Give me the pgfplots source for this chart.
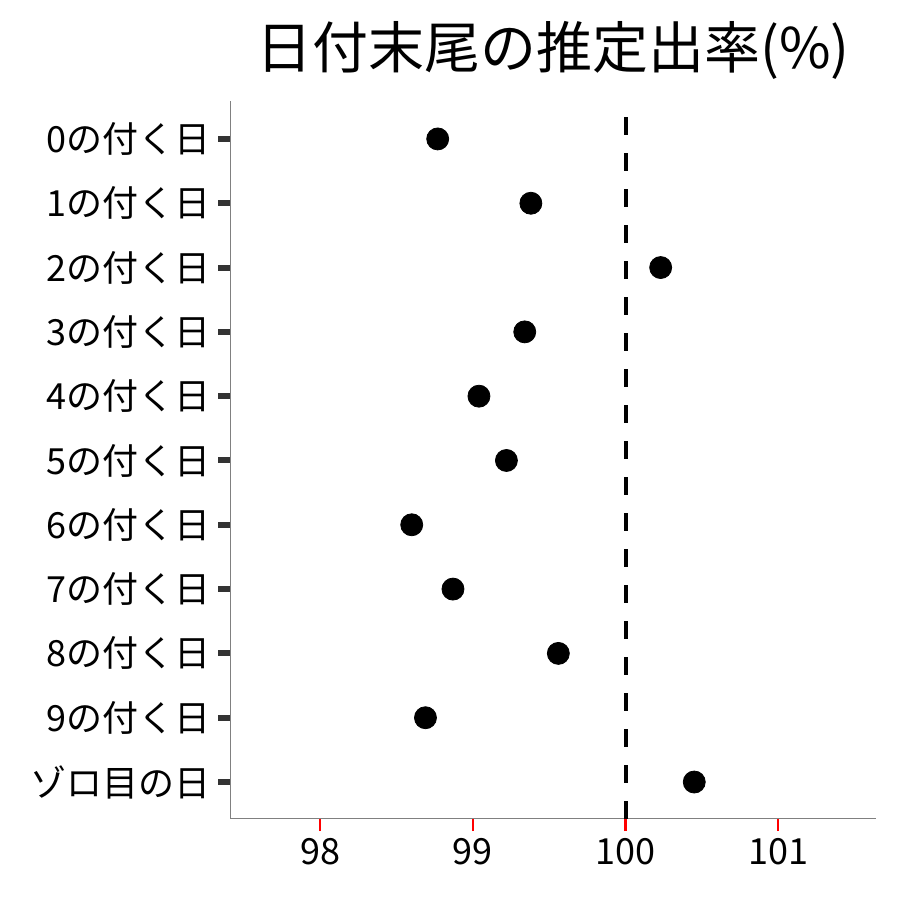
\documentclass[border=0pt]{standalone}
\usepackage{pgfplots}
\pgfplotsset{compat=1.18}
\usepackage{fontspec}
\setmainfont{Noto Sans CJK JP}
\begin{document}
\begin{tikzpicture}[x=1pt,y=1pt]
\path (0,0) rectangle (450,450);
\begin{axis}[
  at={(115pt,40.5pt)}, anchor=south west,
  scale only axis, width=323pt, height=359pt,
  xmin=97.41, xmax=101.64, ymin=-0.575, ymax=10.59,
  axis x line*=bottom, axis y line*=left,
  axis line style={draw=gray, line width=0.5pt, -},
  xtick={98,99,100,101},
  ytick={0,1,2,3,4,5,6,7,8,9,10},
  yticklabels={ゾロ目の日,9の付く日,8の付く日,7の付く日,6の付く日,5の付く日,4の付く日,3の付く日,2の付く日,1の付く日,0の付く日},
  tick align=outside,
  major tick length=6pt,
  xtick style={red, line width=1.2pt},
  ytick style={black!80, line width=3pt},
  ticklabel style={font=\fontsize{18}{21}\selectfont, text=black},
  /pgf/number format/assume math mode=true,
  title={日付末尾の推定出率(\%)},
  title style={font=\fontsize{28}{33}\selectfont, yshift=1pt},
  clip=false,
]
\addplot[black, line width=2pt, dash pattern=on 9pt off 9pt] coordinates {(100,-0.575) (100,10.59)};
\addplot[only marks, mark=*, mark size=5.5pt, mark options={fill=black, draw=black}] coordinates {
  (98.77,10) (99.38,9) (100.23,8) (99.34,7) (99.04,6) (99.22,5)
  (98.60,4) (98.87,3) (99.56,2) (98.69,1) (100.45,0)
};
\end{axis}
\end{tikzpicture}
\end{document}
